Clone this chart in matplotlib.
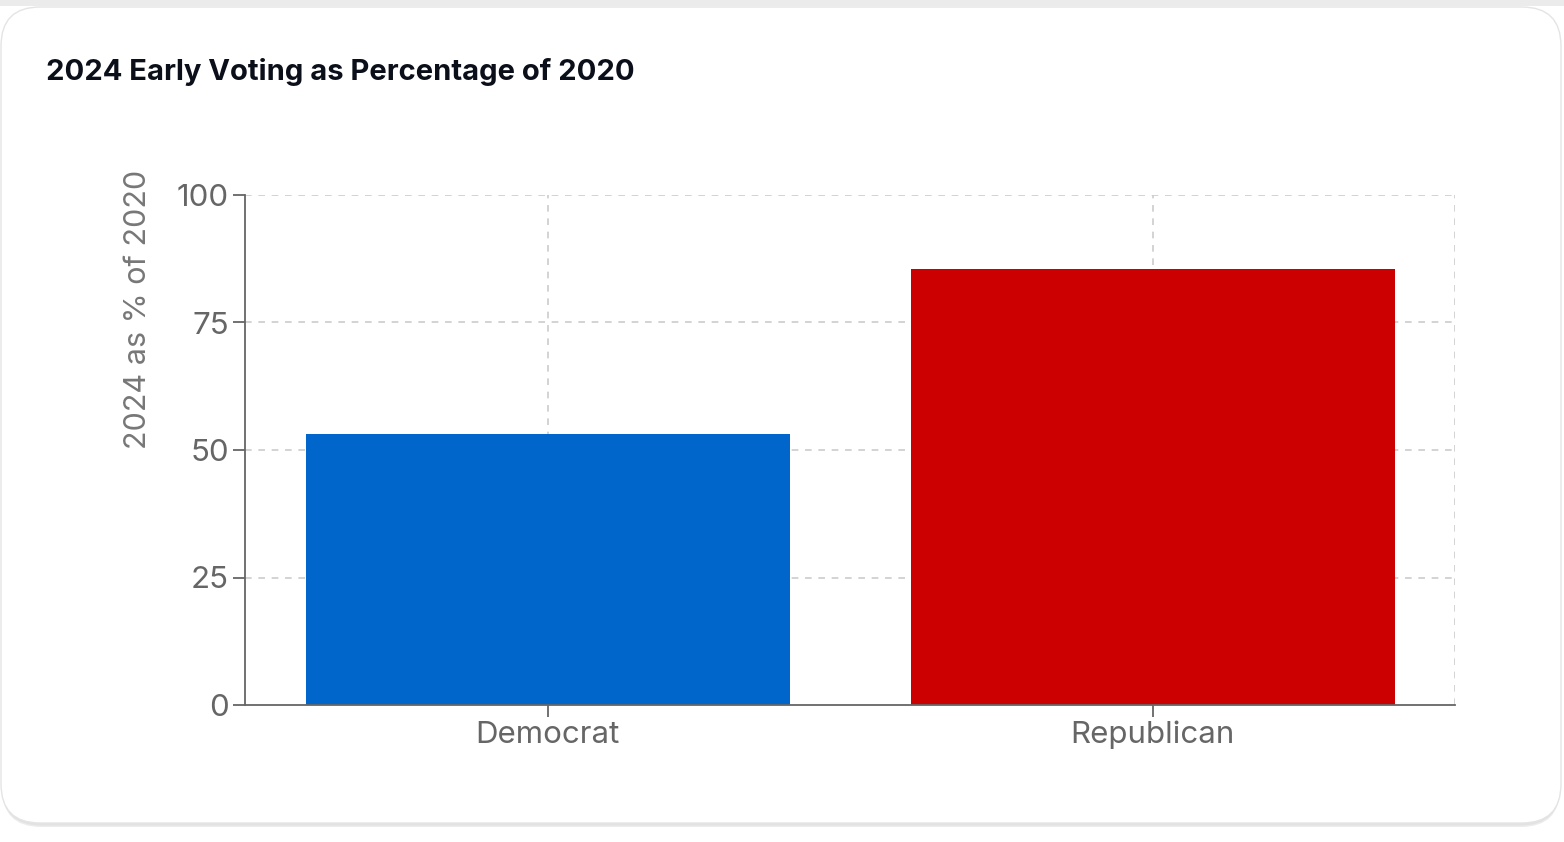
import matplotlib
matplotlib.use('Agg')
import matplotlib.pyplot as plt
from matplotlib.patches import FancyBboxPatch

# data
parties = ['Democrat', 'Republican']
pct_of_2020 = [53.1, 85.4]
bar_colors = ['#0066cc', '#cc0000']
y_ticks = [0, 25, 50, 75, 100]

plt.rcParams['font.family'] = ['Inter', 'DejaVu Sans']

fig = plt.figure(figsize=(15.64, 8.42), dpi=100)
fig.patch.set_facecolor('white')

# card background with soft shadow (behind the axes)
W, H = 1564, 842
fig.add_artist(plt.Rectangle((0, 1 - 6 / H), 1, 6 / H, transform=fig.transFigure,
                             facecolor='#ebebeb', edgecolor='none', zorder=-10))
for off, col in [(3, '#ececec'), (1.5, '#e2e2e2')]:
    fig.add_artist(FancyBboxPatch((2 / W, (842 - 824 - off) / H), 1558 / W, 816 / H,
                                  boxstyle='round,pad=0,rounding_size=0.025',
                                  mutation_aspect=W / H,
                                  transform=fig.transFigure, facecolor=col,
                                  edgecolor='none', zorder=-10))
fig.add_artist(FancyBboxPatch((1 / W, (842 - 823) / H), 1560 / W, 816 / H,
                              boxstyle='round,pad=0,rounding_size=0.025',
                              mutation_aspect=W / H,
                              transform=fig.transFigure, facecolor='white',
                              edgecolor='#e4e4e4', linewidth=1, zorder=-9))

fig.text(46 / W, 1 - 72 / H, '2024 Early Voting as Percentage of 2020',
         fontsize=21, fontweight='bold', color='#0b0f19', va='center', ha='left')

ax = fig.add_axes([245 / W, 1 - 705 / H, 1210 / W, 510 / H])
ax.set_facecolor('none')

x = range(len(parties))
ax.bar(x, pct_of_2020, width=0.8, color=bar_colors, zorder=3)

ax.set_xlim(-0.5, 1.5)
ax.set_ylim(0, 100)
ax.set_yticks(y_ticks)
ax.set_xticks(list(x))
ax.set_xticklabels(parties)

grid_kw = dict(color='#cccccc', linestyle=(0, (4, 4)), linewidth=1.2, zorder=1)
for yv in y_ticks[1:]:
    ax.axhline(yv, **grid_kw)
for xv in list(x) + [1.5]:
    ax.axvline(xv, **grid_kw)

for side in ['top', 'right']:
    ax.spines[side].set_visible(False)
for side in ['left', 'bottom']:
    ax.spines[side].set_color('#666666')
    ax.spines[side].set_linewidth(1.3)
    ax.spines[side].set_zorder(4)

ax.tick_params(axis='both', colors='#666666', labelcolor='#666666',
               labelsize=22.5, length=8.5, width=1.3, pad=3)
ax.set_ylabel('2024 as % of 2020', fontsize=22, color='#777777')
ax.yaxis.set_label_coords(-0.077, 0.775)

fig.savefig('out.png', dpi=100, facecolor='white')
